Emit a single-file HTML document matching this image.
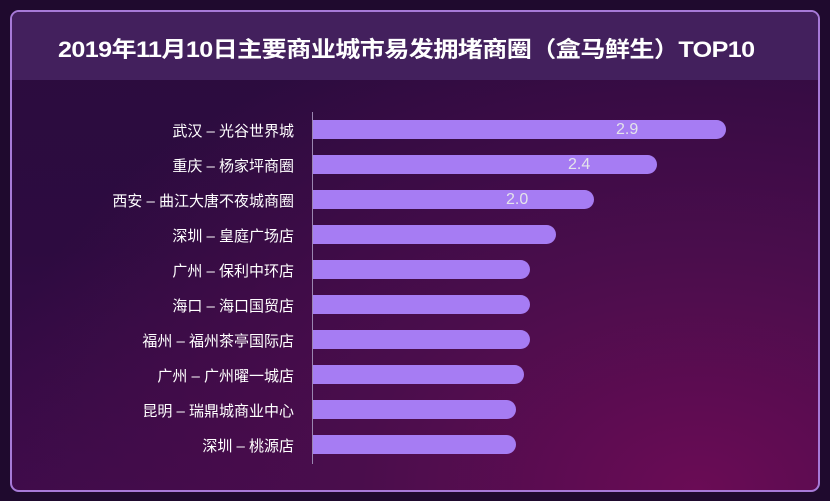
<!DOCTYPE html>
<html><head><meta charset="utf-8"><style>
body{margin:0;width:830px;height:501px;overflow:hidden;background:#1f0a2e;font-family:"Liberation Sans","Noto Sans CJK SC",sans-serif;}
#f{position:absolute;left:10px;top:10px;width:806px;height:478px;border:2px solid #a77ad8;border-radius:9px;overflow:hidden;
background:radial-gradient(ellipse at 85% 100%,#6a0c55 0%,#4a0d4c 35%,rgba(0,0,0,0) 75%),linear-gradient(180deg,#2b0c3e 0%,#2d0b40 50%,#3e0b4a 100%);}
#t{position:absolute;left:0;top:0;width:100%;height:68px;background:#43205d;}
#t span{position:absolute;left:46px;top:20px;color:#fff;font-size:22px;font-weight:bold;letter-spacing:-0.5px;transform:scaleX(1.14);transform-origin:0 0;}
.l{position:absolute;right:524px;color:#fff;font-size:15px;white-space:nowrap;}
.b{position:absolute;left:301px;height:19px;background:#a67cf3;border-radius:0 10px 10px 0;}
.v{position:absolute;color:#e4e4ea;font-size:16px;}
#ax{position:absolute;left:300px;top:100px;width:1px;height:352px;background:#9a86b0;}
</style></head><body>
<div id="f">
<div id="t"><span>2019年11月10日主要商业城市易发拥堵商圈（盒马鲜生）TOP10</span></div>
<div id="ax"></div>
<div class="l" style="top:108px">武汉 – 光谷世界城</div><div class="b" style="top:108px;width:413px"></div><div class="v" style="left:604px;top:109px">2.9</div>
<div class="l" style="top:143px">重庆 – 杨家坪商圈</div><div class="b" style="top:143px;width:344px"></div><div class="v" style="left:556px;top:144px">2.4</div>
<div class="l" style="top:178px">西安 – 曲江大唐不夜城商圈</div><div class="b" style="top:178px;width:281px"></div><div class="v" style="left:494px;top:179px">2.0</div>
<div class="l" style="top:213px">深圳 – 皇庭广场店</div><div class="b" style="top:213px;width:243px"></div>
<div class="l" style="top:248px">广州 – 保利中环店</div><div class="b" style="top:248px;width:217px"></div>
<div class="l" style="top:283px">海口 – 海口国贸店</div><div class="b" style="top:283px;width:217px"></div>
<div class="l" style="top:318px">福州 – 福州茶亭国际店</div><div class="b" style="top:318px;width:217px"></div>
<div class="l" style="top:353px">广州 – 广州曜一城店</div><div class="b" style="top:353px;width:211px"></div>
<div class="l" style="top:388px">昆明 – 瑞鼎城商业中心</div><div class="b" style="top:388px;width:203px"></div>
<div class="l" style="top:423px">深圳 – 桃源店</div><div class="b" style="top:423px;width:203px"></div>
</div>
</body></html>
